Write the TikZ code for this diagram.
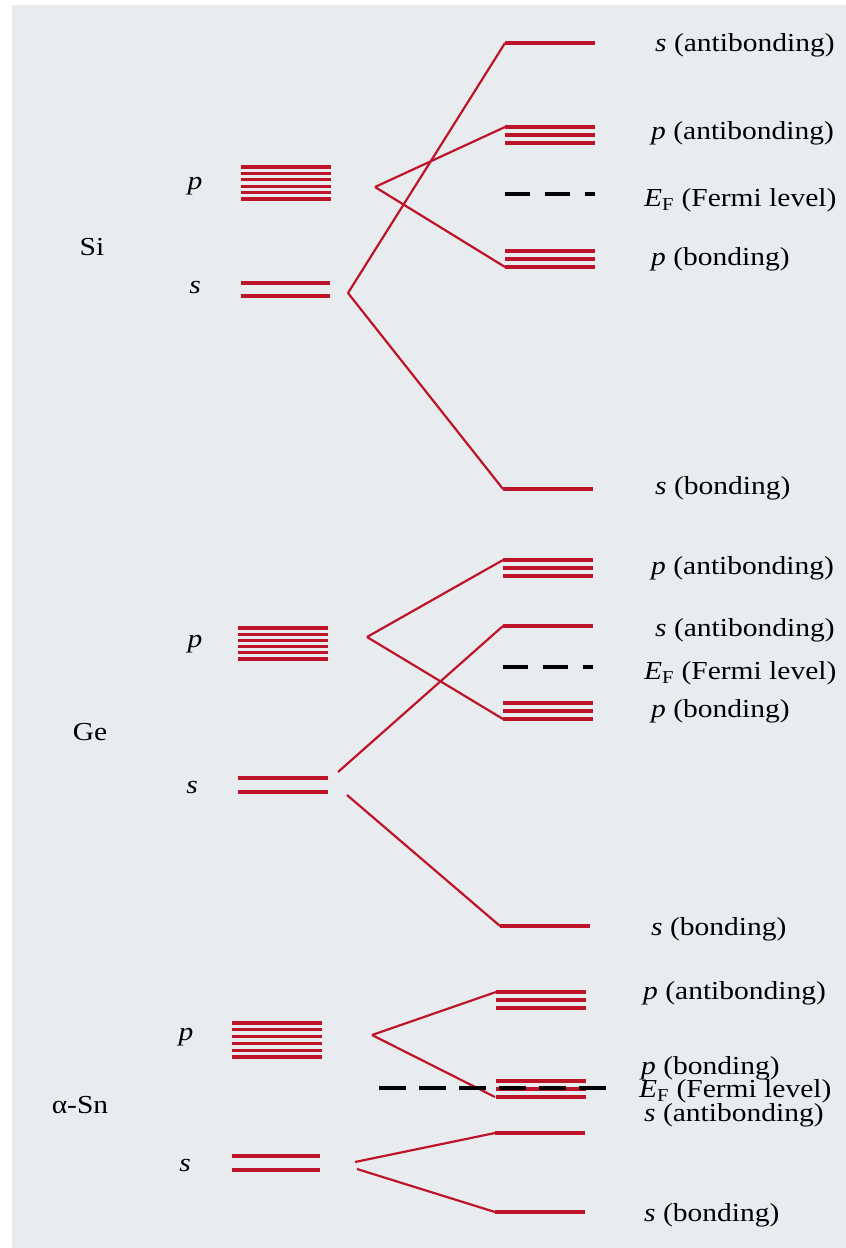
\documentclass[tikz,border=0pt]{standalone}
\usepackage{graphicx}
\usepackage{fontspec}
\setmainfont{Liberation Serif}
\definecolor{lvlred}{RGB}{190,20,42}
\definecolor{pagebg}{RGB}{233,236,238}
\newcommand{\labfont}{\fontsize{29.5}{33}\selectfont}
\newcommand{\sq}[1]{\scalebox{1}[0.88]{#1}}
\tikzset{
  lvl/.style={draw=lvlred, line width=3.3pt},
  conn/.style={draw=lvlred, line width=2.2pt},
  efline/.style={draw=black, line width=3.2pt, dash pattern=on 25pt off 15pt},
  efsn/.style={draw=black, line width=3.2pt, dash pattern=on 27pt off 13pt},
  lab/.style={anchor=west, inner sep=0pt, font=\labfont},
  orb/.style={anchor=center, inner sep=0pt, font=\labfont\itshape},
  elem/.style={anchor=center, inner sep=0pt, font=\labfont}
}
\begin{document}
\begin{tikzpicture}[x=1pt,y=-1pt]
\useasboundingbox (0,0) rectangle (846,1248);
\fill[white] (0,0) rectangle (846,1248);
\fill[pagebg] (12,5) rectangle (846,1248);

% ================= Si =================
\node[elem] (Si) at (92,247) {\sq{Si}};
\node[orb] (Sip) at (195,186) {\sq{p}};
\node[orb] (Sis) at (195,288) {\sq{s}};
\foreach \y in {167,173.4,179.8,186.2,192.6,199} \draw[lvl] (241,\y) -- (331,\y);
\foreach \y in {283,296} \draw[lvl] (241,\y) -- (330,\y);
\coordinate (SiPv) at (375,187);
\coordinate (SiSv) at (348,293);
% s antibonding
\coordinate (SiSA) at (505,43);
\draw[lvl] (SiSA) -- (595,43);
\draw[conn] (SiSv) -- (SiSA);
% p antibonding
\coordinate (SiPA) at (505,127);
\foreach \y in {127,135,143} \draw[lvl] (505,\y) -- (595,\y);
\draw[conn] (SiPv) -- (SiPA);
% Fermi
\coordinate (SiEFa) at (505,194);
\coordinate (SiEFb) at (595,194);
\draw[efline] (SiEFa) -- (SiEFb);
% p bonding
\coordinate (SiPB) at (505,267);
\foreach \y in {251,259,267} \draw[lvl] (505,\y) -- (595,\y);
\draw[conn] (SiPv) -- (SiPB);
% s bonding
\coordinate (SiSB) at (503,489);
\draw[lvl] (SiSB) -- (593,489);
\draw[conn] (SiSv) -- (SiSB);
\node[lab] (SiLsa) at (655,45) {\sq{\textit{s} (antibonding)}};
\node[lab] (SiLpa) at (651,133) {\sq{\textit{p} (antibonding)}};
\node[lab] (SiLef) at (644,200) {\sq{\textit{E}\textsubscript{F} (Fermi level)}};
\node[lab] (SiLpb) at (651,259) {\sq{\textit{p} (bonding)}};
\node[lab] (SiLsb) at (655,488) {\sq{\textit{s} (bonding)}};

% ================= Ge =================
\node[elem] (Ge) at (90,732) {\sq{Ge}};
\node[orb] (Gep) at (195,644) {\sq{p}};
\node[orb] (Ges) at (192,787) {\sq{s}};
\foreach \y in {628,634.2,640.4,646.6,652.8,659} \draw[lvl] (238,\y) -- (328,\y);
\foreach \y in {778,792} \draw[lvl] (238,\y) -- (328,\y);
\coordinate (GePv) at (367,637);
\coordinate (GeSu) at (338,772);
\coordinate (GeSl) at (347,795);
% p antibonding
\coordinate (GePA) at (503,560);
\foreach \y in {560,568,576} \draw[lvl] (503,\y) -- (593,\y);
\draw[conn] (GePv) -- (GePA);
% s antibonding
\coordinate (GeSA) at (503,626);
\draw[lvl] (GeSA) -- (593,626);
\draw[conn] (GeSu) -- (GeSA);
% Fermi
\coordinate (GeEFa) at (503,667);
\coordinate (GeEFb) at (593,667);
\draw[efline] (GeEFa) -- (GeEFb);
% p bonding
\coordinate (GePB) at (503,719);
\foreach \y in {703,711,719} \draw[lvl] (503,\y) -- (593,\y);
\draw[conn] (GePv) -- (GePB);
% s bonding
\coordinate (GeSB) at (500,926);
\draw[lvl] (GeSB) -- (590,926);
\draw[conn] (GeSl) -- (GeSB);
\node[lab] (GeLpa) at (651,568) {\sq{\textit{p} (antibonding)}};
\node[lab] (GeLsa) at (655,630) {\sq{\textit{s} (antibonding)}};
\node[lab] (GeLef) at (644,673) {\sq{\textit{E}\textsubscript{F} (Fermi level)}};
\node[lab] (GeLpb) at (651,711) {\sq{\textit{p} (bonding)}};
\node[lab] (GeLsb) at (651,929) {\sq{\textit{s} (bonding)}};

% ================= alpha-Sn =================
\node[elem] (Sn) at (80,1105) {\sq{α-Sn}};
\node[orb] (Snp) at (186,1037) {\sq{p}};
\node[orb] (Sns) at (185,1165) {\sq{s}};
\foreach \y in {1023,1029.8,1036.6,1043.4,1050.2,1057} \draw[lvl] (232,\y) -- (322,\y);
\foreach \y in {1156,1170} \draw[lvl] (232,\y) -- (320,\y);
\coordinate (SnPv) at (372,1035);
\coordinate (SnSu) at (355,1162);
\coordinate (SnSl) at (357,1169);
% p antibonding
\coordinate (SnPA) at (496,992);
\foreach \y in {992,1000,1008} \draw[lvl] (496,\y) -- (586,\y);
\draw[conn] (SnPv) -- (SnPA);
% p bonding
\coordinate (SnPB) at (495,1097);
\foreach \y in {1081,1089,1097} \draw[lvl] (496,\y) -- (586,\y);
\draw[conn] (SnPv) -- (SnPB);
% Fermi
\coordinate (SnEFa) at (379,1088);
\coordinate (SnEFb) at (608,1088);
\draw[efsn] (SnEFa) -- (SnEFb);
% s antibonding
\coordinate (SnSA) at (495,1133);
\draw[lvl] (SnSA) -- (585,1133);
\draw[conn] (SnSu) -- (SnSA);
% s bonding
\coordinate (SnSB) at (495,1212);
\draw[lvl] (SnSB) -- (585,1212);
\draw[conn] (SnSl) -- (SnSB);
\node[lab] (SnLpa) at (643,993) {\sq{\textit{p} (antibonding)}};
\node[lab] (SnLpb) at (641,1068) {\sq{\textit{p} (bonding)}};
\node[lab] (SnLef) at (639,1091) {\sq{\textit{E}\textsubscript{F} (Fermi level)}};
\node[lab] (SnLsa) at (644,1115) {\sq{\textit{s} (antibonding)}};
\node[lab] (SnLsb) at (644,1215) {\sq{\textit{s} (bonding)}};
\end{tikzpicture}
\end{document}
